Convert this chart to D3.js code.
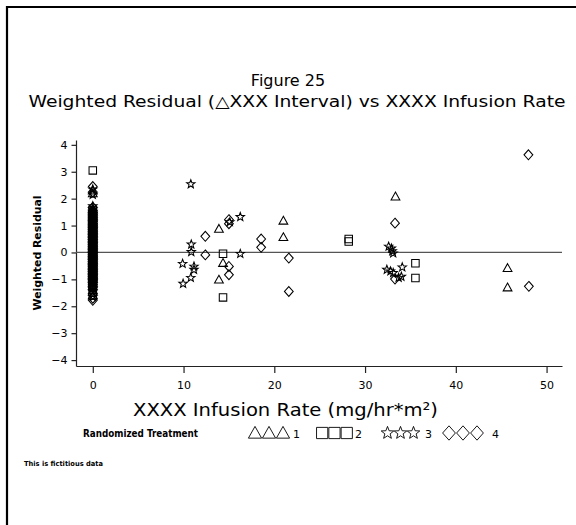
<!DOCTYPE html>
<html>
<head>
<meta charset="utf-8">
<script src="https://cdn.jsdelivr.net/npm/d3@7"></script>
<style>
  html, body { margin: 0; padding: 0; background: #fff; }
  svg { display: block; }
  text { font-family: "DejaVu Sans", "Liberation Sans", sans-serif; fill: #000; }
</style>
</head>
<body>
<svg id="chart" width="576" height="525"></svg>
<script>
// ---------------- data ----------------
const titleLine1 = "Figure 25";
const titleLine2 = "Weighted Residual (\u25B3XXX Interval) vs XXXX Infusion Rate";
const xLabel = "XXXX Infusion Rate (mg/hr*m\u00B2)";
const yLabel = "Weighted Residual";
const footnote = "This is fictitious data";
const legendTitle = "Randomized Treatment";
const treatments = ["1", "2", "3", "4"];
const xTicks = [0, 10, 20, 30, 40, 50];
const yTicks = [-4, -3, -2, -1, 0, 1, 2, 3, 4];

// Residuals of subjects at infusion rate 0 (dense column), per treatment
const t1zero = [2.3,2.2,1.62,1.55,1.48,1.4,1.33,1.27,1.2,1.13,1.06,1.0,0.94,0.87,0.81,0.75,0.69,0.62,0.56,0.5,0.44,0.38,0.31,0.25,0.19,0.13,0.06,0.0,-0.06,-0.12,-0.19,-0.25,-0.31,-0.37,-0.44,-0.5,-0.56,-0.63,-0.69,-0.75,-0.81,-0.88,-0.94,-1.0,-1.06,-1.15,-1.25,-1.4,-1.6];
const t2zero = [3.05,1.58,1.5,1.43,1.36,1.29,1.22,1.16,1.09,1.02,0.96,0.9,0.83,0.77,0.71,0.64,0.58,0.52,0.46,0.4,0.33,0.27,0.21,0.15,0.08,0.02,-0.04,-0.1,-0.17,-0.23,-0.29,-0.35,-0.42,-0.48,-0.54,-0.6,-0.67,-0.73,-0.79,-0.85,-0.92,-0.98,-1.04,-1.1,-1.2,-1.3,-1.5];
const t3zero = [2.35,2.15,1.72,1.6,1.52,1.45,1.38,1.31,1.24,1.18,1.11,1.04,0.98,0.92,0.85,0.79,0.73,0.66,0.6,0.54,0.48,0.42,0.35,0.29,0.23,0.17,0.1,0.04,-0.02,-0.08,-0.15,-0.21,-0.27,-0.33,-0.4,-0.46,-0.52,-0.58,-0.65,-0.71,-0.77,-0.83,-0.9,-0.96,-1.02,-1.08,-1.18,-1.33,-1.45,-1.65];
const t4zero = [2.45,2.25,1.68,1.56,1.49,1.42,1.35,1.28,1.21,1.14,1.08,1.01,0.95,0.89,0.82,0.76,0.7,0.63,0.57,0.51,0.45,0.39,0.32,0.26,0.2,0.14,0.07,0.01,-0.05,-0.11,-0.18,-0.24,-0.3,-0.36,-0.43,-0.49,-0.55,-0.62,-0.68,-0.74,-0.8,-0.87,-0.93,-0.99,-1.05,-1.12,-1.22,-1.3,-1.55,-1.7,-1.78];

// Subjects with a non-zero infusion rate, per treatment
const t1x = [13.9, 13.9, 14.35, 21.0, 21.0, 33.35, 45.7, 45.7];
const t1y = [0.88, -1.01, -0.39, 1.18, 0.57, 2.08, -0.58, -1.3];
const t2x = [14.35, 14.35, 28.2, 28.2, 35.55, 35.55];
const t2y = [-0.05, -1.67, 0.5, 0.41, -0.4, -0.95];
const t3x = [10.8, 10.85, 10.85, 9.9, 11.15, 11.15, 10.8, 9.95, 15.1, 16.25, 16.25,
             32.6, 32.9, 33.0, 33.1, 32.4, 32.8, 33.1, 34.1, 33.7, 34.0];
const t3y = [2.54, 0.3, 0.02, -0.42, -0.52, -0.64, -0.94, -1.16, 1.13, 1.32, -0.05,
             0.22, 0.15, 0.05, -0.03, -0.64, -0.7, -0.76, -0.55, -0.94, -0.9];
const t4x = [12.4, 12.4, 15.0, 15.0, 15.0, 15.0, 18.55, 18.55, 21.6, 21.6, 33.3, 33.3, 48.0, 48.05];
const t4y = [0.6, -0.09, 1.22, 1.07, -0.52, -0.83, 0.5, 0.19, -0.21, -1.45, 1.09, -0.99, 3.63, -1.26];

// ---------------- symbols ----------------
const symTriangle = { draw(c, r) { c.moveTo(0, -r); c.lineTo(r, 0.78 * r); c.lineTo(-r, 0.78 * r); c.closePath(); } };
const symSquare = { draw(c, r) { const s = r * 0.85; c.moveTo(-s, -s); c.lineTo(s, -s); c.lineTo(s, s); c.lineTo(-s, s); c.closePath(); } };
const symStar = { draw(c, r) {
  const ri = r * 0.42;
  for (let i = 0; i < 10; i++) {
    const a = -Math.PI / 2 + i * Math.PI / 5;
    const rr = i % 2 === 0 ? r : ri;
    const px = rr * Math.cos(a), py = rr * Math.sin(a);
    if (i === 0) c.moveTo(px, py); else c.lineTo(px, py);
  }
  c.closePath();
} };
const symDiamond = { draw(c, r) { c.moveTo(0, -1.12 * r); c.lineTo(r, 0); c.lineTo(0, 1.12 * r); c.lineTo(-r, 0); c.closePath(); } };
const symbols = [symTriangle, symSquare, symStar, symDiamond];

const series = [
  { zero: t1zero, xs: t1x, ys: t1y },
  { zero: t2zero, xs: t2x, ys: t2y },
  { zero: t3zero, xs: t3x, ys: t3y },
  { zero: t4zero, xs: t4x, ys: t4y }
];

// ---------------- layout ----------------
const svg = d3.select("#chart");

// frame
svg.append("path")
  .attr("d", "M7,530 L7,7 L580,7")
  .attr("fill", "none").attr("stroke", "#000").attr("stroke-width", 2.2);

const x = d3.scaleLinear().domain([-1.85, 51.7]).range([76, 562]);
const y = d3.scaleLinear().domain([-4.22, 4.18]).range([366, 140]);

// titles
svg.append("text").attr("x", 288).attr("y", 86).attr("text-anchor", "middle")
  .attr("font-size", 16).text(titleLine1);
svg.append("text").attr("x", 297).attr("y", 107).attr("text-anchor", "middle")
  .attr("font-size", 16).attr("textLength", 537).attr("lengthAdjust", "spacingAndGlyphs")
  .text(titleLine2);

// axes
const xAxis = svg.append("g").attr("transform", `translate(0,${y.range()[0]})`)
  .call(d3.axisBottom(x).tickValues(xTicks).tickSize(7).tickSizeOuter(0).tickPadding(8).tickFormat(d3.format("d")));
const yAxis = svg.append("g").attr("transform", `translate(${x.range()[0]},0)`)
  .call(d3.axisLeft(y).tickValues(yTicks).tickSize(4.5).tickSizeOuter(0).tickPadding(4).tickFormat(d3.format("d")));
[xAxis, yAxis].forEach(g => {
  g.selectAll("path, line").attr("stroke", "#222").attr("stroke-width", 1.2);
  g.selectAll("text").attr("font-size", 11).attr("font-family", "DejaVu Sans, sans-serif").attr("fill", "#000");
});

// zero reference line
svg.append("line")
  .attr("x1", x.range()[0]).attr("x2", x.range()[1])
  .attr("y1", y(0)).attr("y2", y(0))
  .attr("stroke", "#555").attr("stroke-width", 1.2);

// axis labels
svg.append("text").attr("x", 285.5).attr("y", 416).attr("text-anchor", "middle")
  .attr("font-size", 18).attr("textLength", 305).attr("lengthAdjust", "spacingAndGlyphs")
  .text(xLabel);
svg.append("text")
  .attr("transform", `translate(41,${y(0) + 0.5}) rotate(-90)`)
  .attr("text-anchor", "middle").attr("font-size", 11).attr("font-weight", "bold")
  .attr("textLength", 115).attr("lengthAdjust", "spacingAndGlyphs")
  .text(yLabel);

// points
series.forEach((s, i) => {
  const pts = s.zero.map(v => [0, v]).concat(s.xs.map((v, k) => [v, s.ys[k]]));
  svg.append("g").selectAll("path").data(pts).join("path")
    .attr("transform", d => `translate(${x(d[0])},${y(d[1])})`)
    .attr("d", d3.symbol().type(symbols[i]).size(4.4))
    .attr("fill", "none").attr("stroke", "#000").attr("stroke-width", 1.05);
});

// legend
const legY = 433;
svg.append("text").attr("x", 83).attr("y", legY + 4).attr("font-size", 11).attr("font-weight", "bold")
  .attr("textLength", 115).attr("lengthAdjust", "spacingAndGlyphs").text(legendTitle);
const legStart = [248, 316, 381, 442];
const legStep = [14, 12.3, 13, 14];
const legLabelX = [293, 355, 425, 492];
treatments.forEach((t, i) => {
  const g = svg.append("g");
  const rr = [6.6, 6.6, 6.6, 6.4][i];
  [0, 1, 2].forEach(j => {
    g.append("path")
      .attr("transform", `translate(${legStart[i] + legStep[i] * (j + 0.5)},${legY})`)
      .attr("d", d3.symbol().type(symbols[i]).size(rr))
      .attr("fill", "none").attr("stroke", "#000").attr("stroke-width", 0.9);
  });
  g.append("text").attr("x", legLabelX[i]).attr("y", legY + 4.5).attr("font-size", 11).text(t);
});

// footnote
svg.append("text").attr("x", 24).attr("y", 466).attr("font-size", 7).attr("font-weight", "bold")
  .attr("textLength", 79).attr("lengthAdjust", "spacingAndGlyphs").text(footnote);
</script>
</body>
</html>
